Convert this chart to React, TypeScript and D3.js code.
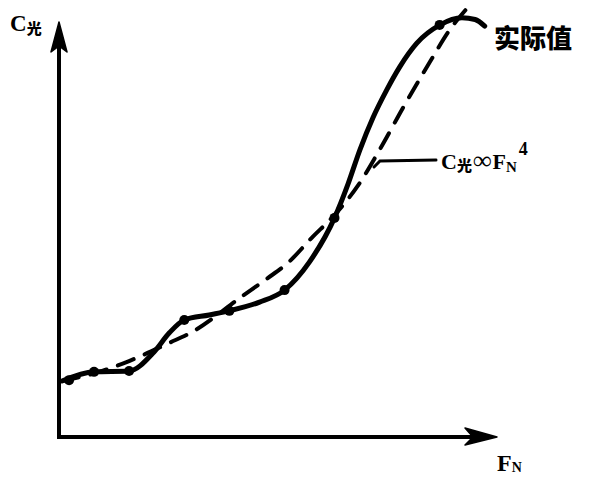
import { useEffect, useRef } from 'react';
import * as d3 from 'd3';

// measured curve (实际值), in arbitrary units of F_N / C光
const actualF = [0.07, 0.8, 1.6, 2.17, 2.52, 2.86, 3.43, 3.89, 4.58, 5.15, 5.72, 6.29, 6.6, 6.87, 7.17, 7.48, 7.78, 8.17, 8.7, 9.2, 9.5, 9.72];
const actualC = [1.35, 1.57, 1.59, 2.05, 2.51, 2.82, 2.94, 3.04, 3.25, 3.54, 4.22, 5.28, 6.1, 6.92, 7.7, 8.36, 8.92, 9.49, 9.93, 10.1, 10.06, 9.9];

// measured points marked with dots
const dotF = [0.23, 0.8, 1.6, 2.86, 3.89, 5.15, 6.29, 8.69];
const dotC = [1.37, 1.57, 1.59, 2.82, 3.04, 3.54, 5.28, 9.93];

// C光 ∝ F_N^4 trend (dashed)
const trendF = [0.07, 0.92, 1.6, 2.52, 3.04, 4.19, 4.74, 5.22, 5.77, 6.29, 6.82, 7.32, 7.89, 8.47, 8.92, 9.29];
const trendC = [1.35, 1.57, 1.83, 2.27, 2.53, 3.4, 3.81, 4.19, 4.8, 5.35, 6.05, 6.92, 8.0, 9.04, 9.81, 10.3];

const labelActual = '实际值';
const labelTrend = ['C', '光', '∞', 'F', 'N', '4'];

function App() {
  const svgRef = useRef<SVGSVGElement>(null);

  useEffect(() => {
    if (!svgRef.current) return;
    const svg = d3.select(svgRef.current);
    svg.selectAll('*').remove();

    const width = 589;
    const height = 486;
    svg.attr('viewBox', `0 0 ${width} ${height}`);

    const x = d3.scaleLinear().domain([0, 10]).range([59, 497]);
    const y = d3.scaleLinear().domain([0, 10]).range([437, 22]);

    // axes with arrow heads
    const axes = svg.append('g').attr('stroke', '#000').attr('fill', '#000');
    axes.append('path')
      .attr('d', `M${x(0)},${y(0)} L${x(0)},${y(10) + 18}`)
      .attr('stroke-width', 4)
      .attr('fill', 'none');
    axes.append('path')
      .attr('d', `M${x(0) - 2},${y(0)} L${x(10) - 18},${y(0)}`)
      .attr('stroke-width', 4)
      .attr('fill', 'none');
    axes.append('path')
      .attr('d', `M${x(0)},${y(10)} L${x(0) - 8},${y(10) + 30} L${x(0)},${y(10) + 24} L${x(0) + 8},${y(10) + 30} Z`)
      .attr('stroke-width', 1.5)
      .attr('stroke-linejoin', 'round');
    axes.append('path')
      .attr('d', `M${x(10)},${y(0)} L${x(10) - 32},${y(0) - 9} L${x(10) - 24},${y(0)} L${x(10) - 32},${y(0) + 8} Z`)
      .attr('stroke-width', 1.5)
      .attr('stroke-linejoin', 'round');

    const line = d3.line<[number, number]>()
      .x(d => x(d[0]))
      .y(d => y(d[1]))
      .curve(d3.curveMonotoneX);

    // dashed trend
    svg.append('path')
      .datum(trendF.map((f, i) => [f, trendC[i]] as [number, number]))
      .attr('d', line)
      .attr('fill', 'none')
      .attr('stroke', '#000')
      .attr('stroke-width', 4)
      .attr('stroke-dasharray', '17 12')
      .attr('stroke-linecap', 'round');

    // solid measured curve
    svg.append('path')
      .datum(actualF.map((f, i) => [f, actualC[i]] as [number, number]))
      .attr('d', line)
      .attr('fill', 'none')
      .attr('stroke', '#000')
      .attr('stroke-width', 5)
      .attr('stroke-linecap', 'round')
      .attr('stroke-linejoin', 'round');

    svg.append('g')
      .selectAll('circle')
      .data(dotF.map((f, i) => [f, dotC[i]]))
      .enter()
      .append('circle')
      .attr('cx', d => x(d[0]))
      .attr('cy', d => y(d[1]))
      .attr('r', 5)
      .attr('fill', '#000');

    // leader line to trend label
    svg.append('path')
      .attr('d', 'M374,167 L380,161 L436,160')
      .attr('fill', 'none')
      .attr('stroke', '#000')
      .attr('stroke-width', 3)
      .attr('stroke-linecap', 'round');

    const serif = '"Liberation Serif", "DejaVu Serif", serif';
    const cjk = '"Noto Sans CJK SC", sans-serif';

    // y axis label
    const yl = svg.append('text')
      .attr('x', 10)
      .attr('y', 31)
      .attr('font-family', serif)
      .attr('font-weight', 'bold')
      .attr('font-size', 23);
    yl.append('tspan').text('C');
    yl.append('tspan')
      .attr('font-family', cjk)
      .attr('font-weight', 900)
      .attr('font-size', 15)
      .attr('dy', 3)
      .text('光');

    // x axis label
    const xl = svg.append('text')
      .attr('x', 497)
      .attr('y', 471)
      .attr('font-family', serif)
      .attr('font-weight', 'bold')
      .attr('font-size', 24);
    xl.append('tspan').text('F');
    xl.append('tspan').attr('font-size', 14).attr('dy', 1).text('N');

    // curve label
    svg.append('text')
      .attr('x', 494)
      .attr('y', 48)
      .attr('font-family', cjk)
      .attr('font-weight', 900)
      .attr('font-size', 26)
      .text(labelActual);

    // trend label
    const tl = svg.append('text')
      .attr('x', 441)
      .attr('y', 169)
      .attr('font-family', serif)
      .attr('font-weight', 'bold')
      .attr('font-size', 22);
    tl.append('tspan').text(labelTrend[0]);
    tl.append('tspan').attr('font-family', cjk).attr('font-weight', 900).attr('font-size', 15).attr('dy', 2).text(labelTrend[1]);
    tl.append('tspan').attr('font-size', 26).attr('dy', -2).attr('dx', 1).text(labelTrend[2]);
    tl.append('tspan').attr('dx', 1).text(labelTrend[3]);
    tl.append('tspan').attr('font-size', 15).attr('dy', 3).text(labelTrend[4]);
    tl.append('tspan').attr('font-size', 18).attr('dy', -17).attr('dx', 2).text(labelTrend[5]);
  }, []);

  return (
    <svg
      ref={svgRef}
      width={589}
      height={486}
      style={{ position: 'absolute', left: 0, top: 0, background: '#fff' }}
    />
  );
}

export default App;
